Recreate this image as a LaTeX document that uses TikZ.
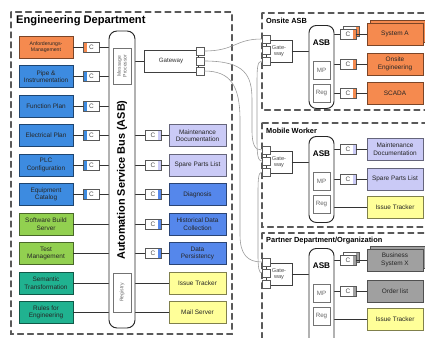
\documentclass[tikz,border=0pt]{standalone}
\usepackage{fontspec}
\setmainfont{Liberation Sans}
\begin{document}
\begin{tikzpicture}[x=0.03cm, y=-0.03cm, line cap=round,
    every node/.style={inner sep=0pt, align=center},
    comp/.style={draw=#1!50!black, fill=#1, line width=0.6pt, minimum height=0.66cm, text=black!85, font=\fontsize{5.5}{6.4}\selectfont},
    cbox/.style={draw=black!65, fill=white, line width=0.5pt, minimum width=0.48cm, minimum height=0.3cm, text=black!70, font=\fontsize{5.5}{6}\selectfont},
    cleft/.style={cbox, path picture={\fill[#1] (path picture bounding box.south west) rectangle ([xshift=2.6pt]path picture bounding box.north west);}},
    cright/.style={cbox, path picture={\fill[#1] ([xshift=-2.6pt]path picture bounding box.south east) rectangle (path picture bounding box.north east);}},
    port/.style={draw=black!65, fill=white, line width=0.5pt, minimum size=0.24cm},
    subbox/.style={draw=black!55, fill=white, line width=0.5pt, text=black!60},
    bus/.style={draw=black!85, fill=white, line width=0.8pt, rounded corners=0.24cm},
    panel/.style={draw=black!65, line width=1pt, dash pattern=on 5pt off 3.5pt},
    title/.style={anchor=west, font=\bfseries\fontsize{6.3}{7}\selectfont},
    wire/.style={draw=black!80, line width=0.6pt},
    link/.style={draw=black!40, line width=0.5pt}]
  \definecolor{orng}{HTML}{F58A4F}
  \definecolor{blu}{HTML}{3D8BE0}
  \definecolor{dblu}{HTML}{5587EB}
  \definecolor{lav}{HTML}{CACAF6}
  \definecolor{grn}{HTML}{92D050}
  \definecolor{teal}{HTML}{20B290}
  \definecolor{yel}{HTML}{FFFF99}
  \definecolor{gry}{HTML}{A0A0A0}
  \path[use as bounding box, clip] (0,0) rectangle (425,337);
  \fill[white] (0,0) rectangle (425,337);

  % Engineering department: bus, left and right components
  \draw[panel] (11,12) rectangle (232,334);
  \node[title, font=\bfseries\fontsize{9.5}{11}\selectfont] (engt) at (16,21) {Engineering Department};
  \node[bus, minimum width=0.78cm, minimum height=8.91cm] (bus) at (122,179.5) {};
  \node[rotate=90, font=\bfseries\fontsize{9.3}{11}\selectfont] (busl) at (122,180) {Automation Service Bus (ASB)};
  \node[subbox, rotate=90, minimum width=1.08cm, minimum height=0.54cm, font=\fontsize{4.3}{4.9}\selectfont] (msgp) at (122,66) {Message\\Processor};
  \node[subbox, rotate=90, minimum width=1.17cm, minimum height=0.54cm, font=\fontsize{4.3}{4.9}\selectfont] (regy) at (122,292.5) {Registry};

  \node[comp=orng, minimum width=1.62cm, font=\fontsize{4.4}{5.2}\selectfont] (l1) at (46,47) {Anforderungs-\\Management};
  \foreach \n/\y/\txt/\col in {l2/76.5/{Pipe \&\\Instrumentation}/blu, l3/106/{Function Plan}/blu,
      l4/135.5/{Electrical Plan}/blu, l5/165/{PLC\\Configuration}/blu, l6/194.5/{Equipment\\Catalog}/blu,
      l7/224/{Software Build\\Server}/grn, l8/253.5/{Test\\Management}/grn,
      l9/283/{Semantic\\Transformation}/teal, l10/312.5/{Rules for\\Engineering}/teal}
    \node[comp=\col, minimum width=1.62cm] (\n) at (46,\y) {\txt};
  \foreach \n/\y/\col in {l1/47/orng, l2/76.5/blu, l3/106/blu, l4/135.5/blu, l5/165/blu, l6/194.5/blu} {
    \node[cleft=\col] (c\n) at (91.5,\y) {C};
    \draw[wire] (\n) -- (c\n);
    \draw[wire] (c\n) -- (c\n -| bus.west);
  }
  \foreach \n in {l7,l8,l9,l10} \draw[wire] (\n) -- (\n -| bus.west);

  \foreach \n/\y/\txt/\col in {r1/135.5/{Maintenance\\Documentation}/lav, r2/165/{Spare Parts List}/lav,
      r3/194.5/{Diagnosis}/dblu, r4/224/{Historical Data\\Collection}/dblu, r5/253.5/{Data\\Persistency}/dblu,
      r6/283/{Issue Tracker}/yel, r7/312.5/{Mail Server}/yel}
    \node[comp=\col, minimum width=1.71cm] (\n) at (197.5,\y) {\txt};
  \foreach \n/\y/\col in {r1/135.5/lav, r2/165/lav, r3/194.5/dblu, r4/224/dblu, r5/253.5/dblu} {
    \node[cright=\col] (c\n) at (153,\y) {C};
    \draw[wire] (c\n -| bus.east) -- (c\n);
    \draw[wire] (c\n) -- (\n);
  }
  \foreach \n in {r6,r7} \draw[wire] (\n -| bus.east) -- (\n);

  \node[subbox, draw=black!75, text=black!80, minimum width=1.62cm, minimum height=0.66cm, font=\fontsize{5.3}{6}\selectfont] (gw) at (171,61) {Gateway};
  \draw[wire] (gw -| bus.east) -- (gw);
  \foreach \i/\y in {1/51,2/61,3/71} \node[port] (gp\i) at (200,\y) {};

  % remote sites: gateway and small ASB
  \foreach \p/\gy/\ptop/\pbot/\ah/\ttl in {o/50/13/110/2.49cm/{Onsite ASB}, m/161/123/227/2.58cm/{Mobile Worker},
      p/273/233/345/2.91cm/{Partner Department/Organization}} {
    \draw[panel] (262,\ptop) rectangle (440,\pbot);
    \node[title] (ttl\p) at (266,\ptop+8) {\ttl};
    \node[bus, rounded corners=0.22cm, minimum width=0.75cm, minimum height=\ah, anchor=north] (asb\p) at (321.5,\gy-25) {};
    \node[font=\bfseries\fontsize{7}{8}\selectfont] (asbl\p) at (321.5,\gy-7) {ASB};
    \node[subbox, minimum width=0.51cm, minimum height=0.54cm, font=\fontsize{5.3}{6}\selectfont] (mp\p) at (321.5,\gy+20) {MP};
    \node[subbox, minimum width=0.51cm, minimum height=0.54cm, font=\fontsize{5.3}{6}\selectfont] (reg\p) at (321.5,\gy+43) {Reg};
    \node[subbox, draw=black!75, text=black!70, minimum width=0.78cm, minimum height=0.66cm, font=\fontsize{4.8}{5.4}\selectfont] (gw\p) at (279,\gy+1) {Gate-\\way};
    \draw[wire] (gw\p) -- (gw\p -| asb\p.west);
    \foreach \i/\d in {1/-11,2/0,3/11} \node[port] (gp\p\i) at (266,\gy+\d) {};
  }

  % onsite components
  \node[cright=orng] (csysab) at (351,31) {};
  \node[comp=orng, minimum width=1.68cm] (sysab) at (398,31) {};
  \foreach \n/\y/\txt in {sysa/34/{System A}, onse/64/{Onsite\\Engineering}, scada/93/{SCADA}} {
    \node[cright=orng] (c\n) at (348,\y) {C};
    \node[comp=orng, minimum width=1.68cm] (\n) at (395,\y) {\txt};
    \draw[wire] (c\n -| asbo.east) -- (c\n);
    \draw[wire] (c\n) -- (\n);
  }

  % mobile worker components
  \foreach \n/\y/\txt in {mdoc/149/{Maintenance\\Documentation}, mspl/179/{Spare Parts List}} {
    \node[cright=lav] (c\n) at (348,\y) {C};
    \node[comp=lav, minimum width=1.68cm] (\n) at (395,\y) {\txt};
    \draw[wire] (c\n -| asbm.east) -- (c\n);
    \draw[wire] (c\n) -- (\n);
  }
  \node[comp=yel, minimum width=1.68cm] (miss) at (395,207.5) {Issue Tracker};
  \draw[wire] (miss -| asbm.east) -- (miss);

  % partner components
  \node[cright=gry] (cbsysb) at (351,257) {};
  \node[comp=gry, minimum width=1.68cm] (bsysb) at (398,257) {};
  \foreach \n/\y/\txt in {bsys/260/{Business\\System X}, ordl/291/{Order list}} {
    \node[cright=gry] (c\n) at (348,\y) {C};
    \node[comp=gry, minimum width=1.68cm] (\n) at (395,\y) {\txt};
    \draw[wire] (c\n -| asbp.east) -- (c\n);
    \draw[wire] (c\n) -- (\n);
  }
  \node[comp=yel, minimum width=1.68cm] (piss) at (395,319) {Issue Tracker};
  \draw[wire] (piss -| asbp.east) -- (piss);

  % gateway links
  \draw[link] (gp1.east) .. controls (235,51) and (235,39) .. (gpo1.west);
  \draw[link] (gp2.east) .. controls (245,61) and (252,75) .. (252,100) -- (252,130) .. controls (252,145) and (255,150) .. (gpm1.west);
  \draw[link] (gp3.east) .. controls (230,71) and (240,85) .. (240,120) -- (240,235) .. controls (240,255) and (248,262) .. (gpp1.west);
  \draw[link] (gpo3.west) .. controls (257,61) and (257,70) .. (257,85) -- (257,140) .. controls (257,155) and (258,161) .. (gpm2.west);
  \draw[link] (gpm3.west) .. controls (258,172) and (258,182) .. (258,195) -- (258,255) .. controls (258,268) and (259,273) .. (gpp2.west);
\end{tikzpicture}
\end{document}
